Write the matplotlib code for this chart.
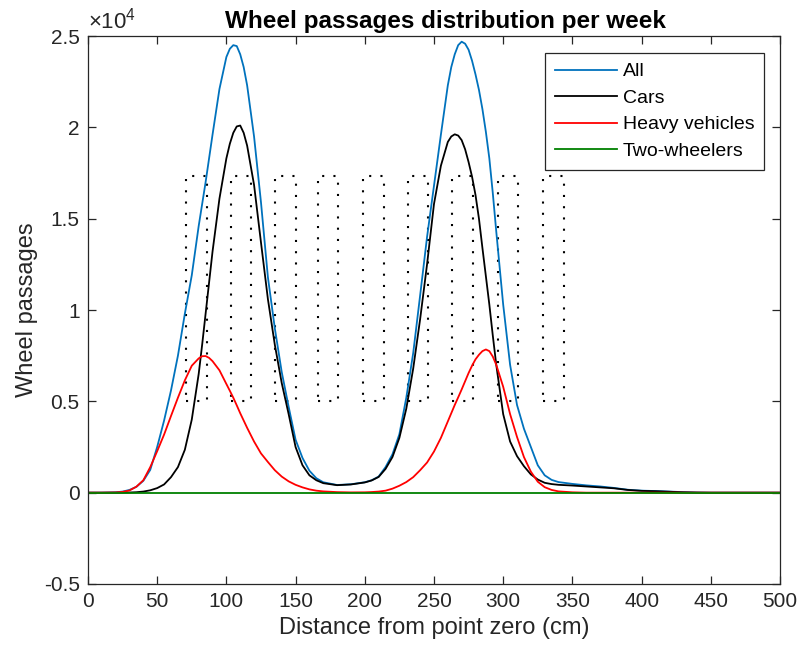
import numpy as np
import matplotlib
matplotlib.use("Agg")
import matplotlib.pyplot as plt

plt.rcParams['font.family'] = ['Liberation Sans', 'DejaVu Sans']
plt.rcParams['mathtext.fontset'] = 'custom'
plt.rcParams['mathtext.rm'] = 'Liberation Sans'
plt.rcParams['lines.scale_dashes'] = False

# distance from point zero (cm)
dist = [0, 10, 20, 25, 30, 35, 40, 45, 50, 55, 60, 65, 70, 75, 80,
        82.5, 85, 87.5, 90, 95, 100, 102.5, 105, 107.5, 110, 112.5, 115,
        120, 125, 130, 135, 140, 145, 150, 155, 160, 165, 170,
        180, 190, 200, 205, 210, 215, 220, 225, 230, 235, 240, 245, 250, 255, 260,
        262.5, 265, 267.5, 270, 272.5, 275, 277.5, 280, 282.5, 285, 287.5, 290, 292.5, 295,
        300, 305, 310, 315, 320, 325, 330, 335, 340,
        350, 360, 370, 380, 390, 400, 410, 420, 430, 440, 450, 500]

all_veh = [0, 0, 20, 60, 150, 320, 650, 1250, 2500, 3950, 5600, 7500, 9800, 11900, 14600,
           15800, 17000, 18300, 19600, 22100, 23850, 24300, 24500, 24450, 24000, 23300, 22300,
           19500, 15900, 11800, 9000, 6600, 4700, 2900, 1900, 1200, 790, 570,
           420, 460, 570, 680, 880, 1400, 2100, 3200, 5200, 7650, 10800, 14000, 16800, 19600, 22300,
           23300, 24000, 24500, 24690, 24580, 24250, 23650, 22900, 22050, 21000, 19750, 18300, 16400, 14300,
           10300, 7000, 4800, 3500, 2500, 1500, 950, 700, 580,
           480, 400, 340, 260, 160, 110, 90, 60, 30, 10, 0, 0]

cars = [0, 0, 0, 0, 10, 25, 60, 130, 250, 450, 850, 1400, 2350, 4000, 6500,
        8100, 9800, 11500, 13200, 16100, 18300, 19100, 19700, 20050, 20100, 19700, 19000,
        16850, 13700, 10600, 8100, 6000, 4300, 2500, 1500, 950, 680, 520,
        410, 450, 560, 670, 860, 1300, 1950, 3000, 4600, 6800, 9500, 12500, 15800, 17900, 19200,
        19500, 19620, 19550, 19300, 18800, 18100, 17300, 16300, 15000, 13400, 11850, 10300, 8600, 7000,
        4300, 2800, 2000, 1450, 1000, 720, 540, 470, 430,
        390, 340, 290, 240, 150, 100, 80, 50, 20, 5, 0, 0]

heavy = [0, 0, 10, 40, 120, 330, 680, 1400, 2270, 3180, 4200, 5200, 6150, 6950, 7350,
         7470, 7480, 7380, 7200, 6700, 5950, 5580, 5200, 4780, 4350, 3950, 3550,
         2800, 2150, 1680, 1230, 880, 620, 430, 290, 180, 110, 70,
         30, 15, 20, 35, 60, 110, 220, 380, 580, 850, 1230, 1650, 2250, 3000, 3900,
         4350, 4800, 5220, 5650, 6100, 6550, 6950, 7300, 7550, 7750, 7840, 7750, 7450, 7000,
         5800, 4300, 3050, 1950, 1150, 600, 300, 150, 70,
         20, 0, 0, 0, 0, 0, 0, 0, 0, 0, 0, 0]

two_wheelers = [0] * len(dist)

# dotted rectangles (cm, passages)
rect_left = [71, 103, 135, 166, 199, 231, 263, 296, 329]
rect_right = [86, 118, 150, 181, 214, 246, 278, 311, 344]
rect_low = 5000
rect_high = 17330

fig = plt.figure(figsize=(7.99, 6.55), dpi=100)
ax = fig.add_axes([0.1101, 0.1084, 0.8661, 0.8366])

for a, b in zip(rect_left, rect_right):
    ax.plot([a, b, b, a, a], [rect_low, rect_low, rect_high, rect_high, rect_low],
            color='black', lw=1.5, linestyle=(0, (1.5, 6.6)))

ax.plot(dist, all_veh, color='#0072BD', lw=1.3, label='All')
ax.plot(dist, cars, color='black', lw=1.3, label='Cars')
ax.plot(dist, heavy, color='#FF0000', lw=1.3, label='Heavy vehicles')
ax.plot(dist, two_wheelers, color='#008000', lw=1.3, label='Two-wheelers')

ax.set_xlim(0, 500)
ax.set_ylim(-5000, 25000)
ax.set_xticks(range(0, 501, 50))
ax.set_yticks([-5000, 0, 5000, 10000, 15000, 20000, 25000])
ax.set_yticklabels(['-0.5', '0', '0.5', '1', '1.5', '2', '2.5'])
ax.tick_params(direction='in', length=6, width=0.9, top=True, right=True,
               labelsize=15, colors='#262626', pad=6)
for s in ax.spines.values():
    s.set_color('#262626')
    s.set_linewidth(0.9)

ax.text(0, 1.004, r'$\times10^{4}$', transform=ax.transAxes, ha='left',
        va='bottom', fontsize=16, color='#262626')

ax.set_xlabel('Distance from point zero (cm)', fontsize=17, color='#262626')
ax.set_ylabel('Wheel passages', fontsize=17, color='#262626')
ax.set_title('Wheel passages distribution per week', fontsize=17.5, fontweight='bold',
             pad=6, x=0.516)

leg = ax.legend(loc='upper right', bbox_to_anchor=(0.977, 0.969), borderaxespad=0,
                fontsize=14, handlelength=3.2, fancybox=False, edgecolor='#262626',
                framealpha=1, borderpad=0.5, labelspacing=0.46, handletextpad=0.3)
leg.get_frame().set_linewidth(0.9)

fig.savefig('out.png', dpi=100)
